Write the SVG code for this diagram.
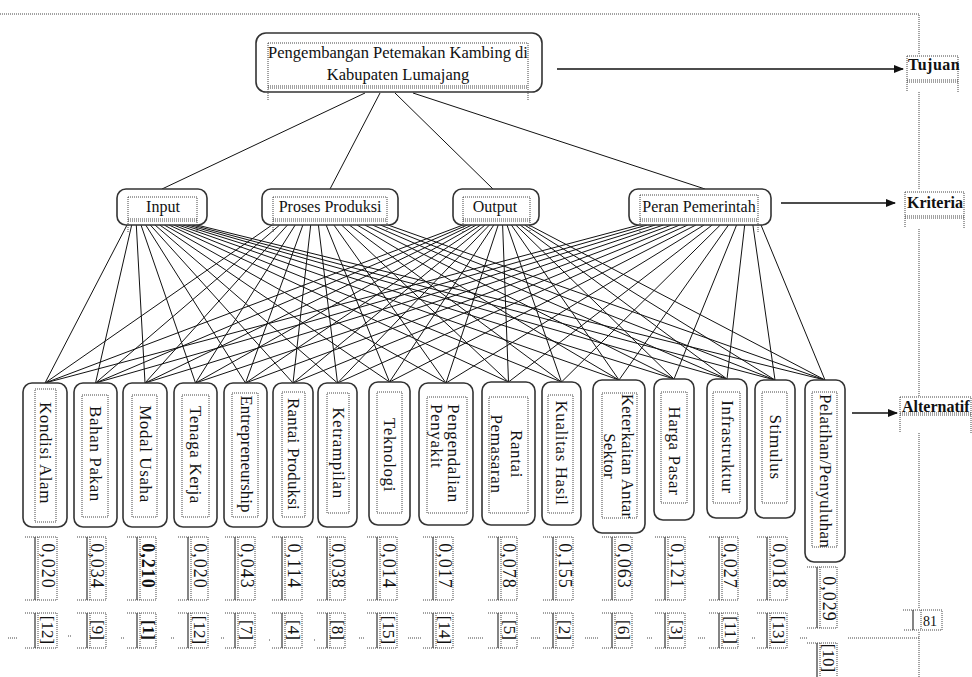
<svg xmlns="http://www.w3.org/2000/svg" width="972" height="677" viewBox="0 0 972 677">
<style>
.box{fill:#fff;stroke:#333;stroke-width:1.6}
.dot{fill:none;stroke:#444;stroke-width:1;stroke-dasharray:1 1}
.sol{fill:none;stroke:#333;stroke-width:1.2}
.con{fill:none;stroke:#111;stroke-width:1}
.arr{fill:none;stroke:#111;stroke-width:1.4}
.t{font-family:"Liberation Serif","Times New Roman",serif;font-size:16px;fill:#111}
.c{text-anchor:middle}
.lb{font-family:"Liberation Serif","Times New Roman",serif;font-size:16px;font-weight:bold;fill:#111}
.a{font-family:"Liberation Serif","Times New Roman",serif;font-size:17px;fill:#111;text-anchor:middle;dominant-baseline:central;letter-spacing:0.6px}
.v{font-family:"Liberation Serif","Times New Roman",serif;font-size:18px;fill:#111;text-anchor:middle;dominant-baseline:central;letter-spacing:1px}
.r{font-family:"Liberation Serif","Times New Roman",serif;font-size:17px;fill:#111;text-anchor:middle;dominant-baseline:central}
.bd{font-weight:bold}
</style>
<defs>
<marker id="ah" markerWidth="10" markerHeight="8" refX="9" refY="4" orient="auto" markerUnits="userSpaceOnUse">
<path d="M0,0 L10,4 L0,8 z" fill="#111"/>
</marker>
</defs>

<g id="frame">
<path class="dot" d="M0,14 H919 V55 M919,92 V190 M919,229 V397 M919,433 V608 M919,632 V677 M848,638 H919"/>
</g>

<g id="connectors">
<path class="con" d="M365,93 L162,189 M380,93 L330,189 M395,93 L493,189 M413,93 L705,189"/>
<path class="con" d="M127,225L45,383 M131.7,225L95.5,383 M136.3,225L145,383 M141,225L195.5,383 M145.7,225L245.5,383 M150.3,225L293,383 M155,225L337.5,383 M159.7,225L389.5,382 M164.3,225L446,383 M169,225L508.5,382 M173.7,225L561.5,382 M178.3,225L619,380 M183,225L674,379 M187.7,225L727,379 M192.3,225L775,380 M197,225L825,380"/>
<path class="con" d="M272,225L45,383 M279.7,225L95.5,383 M287.5,225L145,383 M295.2,225L195.5,383 M302.9,225L245.5,383 M310.7,225L293,383 M318.4,225L337.5,383 M326.1,225L389.5,382 M333.9,225L446,383 M341.6,225L508.5,382 M349.3,225L561.5,382 M357.1,225L619,380 M364.8,225L674,379 M372.5,225L727,379 M380.3,225L775,380 M388,225L825,380"/>
<path class="con" d="M463,225L45,383 M467.4,225L95.5,383 M471.8,225L145,383 M476.2,225L195.5,383 M480.6,225L245.5,383 M485,225L293,383 M489.4,225L337.5,383 M493.8,225L389.5,382 M498.2,225L446,383 M502.6,225L508.5,382 M507,225L561.5,382 M511.4,225L619,380 M515.8,225L674,379 M520.2,225L727,379 M524.6,225L775,380 M529,225L825,380"/>
<path class="con" d="M639,225L45,383 M647.1,225L95.5,383 M655.3,225L145,383 M663.4,225L195.5,383 M671.5,225L245.5,383 M679.7,225L293,383 M687.8,225L337.5,383 M695.9,225L389.5,382 M704.1,225L446,383 M712.2,225L508.5,382 M720.3,225L561.5,382 M728.5,225L619,380 M736.6,225L674,379 M744.7,225L727,379 M752.9,225L775,380 M761,225L825,380"/>
<line class="arr" x1="557" y1="69" x2="903" y2="69" marker-end="url(#ah)"/>
<line class="arr" x1="781" y1="203" x2="895" y2="203" marker-end="url(#ah)"/>
<line class="arr" x1="852" y1="413" x2="897" y2="413" marker-end="url(#ah)"/>
</g>

<g id="goal">
<rect class="box" x="256" y="33" width="286" height="59" rx="10"/>
<path class="dot" d="M268,43 H528 V100 M268,43 V100 M268,86 H528 M268,88 H528"/>
<text class="t c" x="398" y="58" style="font-size:16.5px">Pengembangan Petemakan Kambing di</text>
<text class="t c" x="398" y="80" style="font-size:16.5px">Kabupaten Lumajang</text>
</g>

<g id="label-tujuan">
<path class="dot" d="M907,56 H958 V92 M907,56 V92 M907,80 H958 M907,82 H958"/>
<text class="lb" x="908" y="70" style="letter-spacing:0.5px">Tujuan</text>
</g>
<g id="label-kriteria">
<path class="dot" d="M905,192 H964 V228 M905,192 V228 M905,216 H964 M905,218 H964"/>
<text class="lb" x="907" y="208">Kriteria</text>
</g>
<g id="label-alternatif">
<path class="dot" d="M900,397 H971 V433 M900,397 V433 M900,413 H971 M900,415 H971"/>
<text class="lb" x="902" y="412">Alternatif</text>
</g>

<g id="crit-input">
<rect class="box" x="117" y="189" width="90" height="36" rx="9"/>
<path class="dot" d="M128,197 H197 V232 M128,197 V232 M128,219 H197 M128,221 H197"/>
<text class="t c" x="163" y="212">Input</text>
</g>
<g id="crit-proses">
<rect class="box" x="262" y="189" width="136" height="36" rx="9"/>
<path class="dot" d="M273,197 H387 V232 M273,197 V232 M273,219 H387 M273,221 H387"/>
<text class="t c" x="330" y="212">Proses Produksi</text>
</g>
<g id="crit-output">
<rect class="box" x="453" y="189" width="86" height="36" rx="9"/>
<path class="dot" d="M463,197 H530 V232 M463,197 V232 M463,219 H530 M463,221 H530"/>
<text class="t c" x="495" y="212">Output</text>
</g>
<g id="crit-peran">
<rect class="box" x="629" y="189" width="142" height="36" rx="9"/>
<path class="dot" d="M640,195 H758 V233 M640,195 V233 M640,219 H758 M640,221 H758"/>
<text class="t c" x="699" y="212">Peran Pemerintah</text>
</g>

<g id="alt-1">
<rect class="box" x="23" y="383" width="44" height="144" rx="9"/>
<rect class="dot" x="35" y="389" width="21" height="133"/>
<text class="a" transform="translate(45.5,453) rotate(90)">Kondisi Alam</text>
</g>
<g id="alt-2">
<rect class="box" x="74" y="383" width="43" height="144" rx="9"/>
<rect class="dot" x="82" y="395" width="26" height="122"/>
<text class="a" transform="translate(95.5,454) rotate(90)">Bahan Pakan</text>
</g>
<g id="alt-3">
<rect class="box" x="123" y="383" width="44" height="144" rx="9"/>
<rect class="dot" x="132" y="395" width="25" height="122"/>
<text class="a" transform="translate(145,454) rotate(90)">Modal Usaha</text>
</g>
<g id="alt-4">
<rect class="box" x="174" y="383" width="43" height="144" rx="9"/>
<rect class="dot" x="182" y="395" width="27" height="122"/>
<text class="a" transform="translate(195.5,455) rotate(90)">Tenaga Kerja</text>
</g>
<g id="alt-5">
<rect class="box" x="224" y="383" width="43" height="144" rx="9"/>
<rect class="dot" x="232" y="393" width="26" height="124"/>
<text class="a" transform="translate(246,454) rotate(90)" style="letter-spacing:0px">Entrepreneurship</text>
</g>
<g id="alt-6">
<rect class="box" x="273" y="383" width="40" height="144" rx="9"/>
<rect class="dot" x="282" y="392" width="23" height="125"/>
<text class="a" transform="translate(293,454) rotate(90)" style="letter-spacing:0.2px">Rantai Produksi</text>
</g>
<g id="alt-7">
<rect class="box" x="318" y="383" width="39" height="144" rx="9"/>
<rect class="dot" x="327" y="393" width="22" height="120"/>
<text class="a" transform="translate(338,453) rotate(90)">Ketrampilan</text>
</g>
<g id="alt-8">
<rect class="box" x="369" y="382" width="41" height="143" rx="9"/>
<rect class="dot" x="377" y="392" width="25" height="121"/>
<text class="a" transform="translate(389.5,455) rotate(90)">Teknologi</text>
</g>
<g id="alt-9">
<rect class="box" x="419" y="383" width="54" height="142" rx="9"/>
<rect class="dot" x="427" y="397" width="40" height="116"/>
<text class="a" transform="translate(445,404) rotate(90)" style="text-anchor:start"><tspan x="0" y="-8.5">Pengendalian</tspan><tspan x="0" y="8.5">Penyakit</tspan></text>
</g>
<g id="alt-10">
<rect class="box" x="482" y="382" width="53" height="143" rx="9"/>
<rect class="dot" x="489" y="397" width="39" height="116"/>
<text class="a" transform="translate(507,454) rotate(90)"><tspan x="0" y="-10">Rantai</tspan><tspan x="0" y="10">Pemasaran</tspan></text>
</g>
<g id="alt-11">
<rect class="box" x="542" y="382" width="39" height="143" rx="9"/>
<rect class="dot" x="548" y="395" width="25" height="118"/>
<text class="a" transform="translate(561,453) rotate(90)">Kualitas Hasil</text>
</g>
<g id="alt-12">
<rect class="box" x="593" y="380" width="52" height="153" rx="9"/>
<rect class="dot" x="602" y="393" width="35" height="125"/>
<text class="a" transform="translate(619,456) rotate(90)" style="letter-spacing:0.2px"><tspan x="0" y="-9">Keterkaitan Antar</tspan><tspan x="0" y="9">Sektor</tspan></text>
</g>
<g id="alt-13">
<rect class="box" x="654" y="379" width="40" height="141" rx="9"/>
<rect class="dot" x="661" y="392" width="26" height="111"/>
<text class="a" transform="translate(674,451) rotate(90)">Harga Pasar</text>
</g>
<g id="alt-14">
<rect class="box" x="707" y="379" width="40" height="139" rx="9"/>
<rect class="dot" x="713" y="392" width="27" height="111"/>
<text class="a" transform="translate(727,447) rotate(90)">Infrastruktur</text>
</g>
<g id="alt-15">
<rect class="box" x="755" y="380" width="40" height="138" rx="9"/>
<rect class="dot" x="762" y="392" width="25" height="111"/>
<text class="a" transform="translate(775,447) rotate(90)">Stimulus</text>
</g>
<g id="alt-16">
<rect class="box" x="805" y="380" width="40" height="182" rx="9"/>
<rect class="dot" x="812" y="392" width="25" height="155"/>
<text class="a" transform="translate(825,471) rotate(90)" style="letter-spacing:0.3px">Pelatihan/Penyuluhan</text>
</g>

<g id="values">
<g id="val-1"><path class="dot" d="M25,537 H57 V600 H25 M38,537 V600"/><path class="sol" d="M35,537 V600"/><text class="v" transform="translate(47.5,566) rotate(90)">0,020</text></g>
<g id="val-2"><path class="dot" d="M77,537 H106 V600 H77 M90,537 V600"/><path class="sol" d="M87,537 V600"/><text class="v" transform="translate(97,566) rotate(90)">0,034</text></g>
<g id="val-3"><path class="dot" d="M127,537 H156 V600 H127 M140,537 V600"/><path class="sol" d="M137,537 V600"/><text class="v bd" transform="translate(148,566) rotate(90)">0,210</text></g>
<g id="val-4"><path class="dot" d="M178,537 H208 V600 H178 M191,537 V600"/><path class="sol" d="M188,537 V600"/><text class="v" transform="translate(199.5,566) rotate(90)">0,020</text></g>
<g id="val-5"><path class="dot" d="M225,537 H255 V600 H225 M238,537 V600"/><path class="sol" d="M235,537 V600"/><text class="v" transform="translate(246.5,566) rotate(90)">0,043</text></g>
<g id="val-6"><path class="dot" d="M272,537 H302 V600 H272 M285,537 V600"/><path class="sol" d="M282,537 V600"/><text class="v" transform="translate(293.5,566) rotate(90)">0,114</text></g>
<g id="val-7"><path class="dot" d="M317,537 H345 V600 H317 M330,537 V600"/><path class="sol" d="M327,537 V600"/><text class="v" transform="translate(337.5,566) rotate(90)">0,038</text></g>
<g id="val-8"><path class="dot" d="M367,537 H397 V600 H367 M380,537 V600"/><path class="sol" d="M377,537 V600"/><text class="v" transform="translate(388.5,566) rotate(90)">0,014</text></g>
<g id="val-9"><path class="dot" d="M423,537 H453 V600 H423 M436,537 V600"/><path class="sol" d="M433,537 V600"/><text class="v" transform="translate(444.5,566) rotate(90)">0,017</text></g>
<g id="val-10"><path class="dot" d="M488,537 H517 V600 H488 M501,537 V600"/><path class="sol" d="M498,537 V600"/><text class="v" transform="translate(509,566) rotate(90)">0,078</text></g>
<g id="val-11"><path class="dot" d="M543,537 H573 V600 H543 M556,537 V600"/><path class="sol" d="M553,537 V600"/><text class="v" transform="translate(564.5,566) rotate(90)">0,155</text></g>
<g id="val-12"><path class="dot" d="M602,537 H632 V600 H602 M615,537 V600"/><path class="sol" d="M612,537 V600"/><text class="v" transform="translate(623.5,566) rotate(90)">0,063</text></g>
<g id="val-13"><path class="dot" d="M655,537 H685 V600 H655 M668,537 V600"/><path class="sol" d="M665,537 V600"/><text class="v" transform="translate(676.5,566) rotate(90)">0,121</text></g>
<g id="val-14"><path class="dot" d="M709,537 H738 V600 H709 M722,537 V600"/><path class="sol" d="M719,537 V600"/><text class="v" transform="translate(730,566) rotate(90)">0,027</text></g>
<g id="val-15"><path class="dot" d="M757,537 H787 V600 H757 M770,537 V600"/><path class="sol" d="M767,537 V600"/><text class="v" transform="translate(778.5,566) rotate(90)">0,018</text></g>
<g id="val-16"><path class="dot" d="M807,567 H837 V628 H807 M820,567 V628"/><path class="sol" d="M817,567 V628"/><text class="v" transform="translate(828.5,599) rotate(90)">0,029</text></g>
</g>

<g id="ranks">
<g id="rank-1"><path class="dot" d="M25,613 H57 V648 H25 M38,613 V648 M8,638 H18"/><path class="sol" d="M35,613 V648"/><text class="r" transform="translate(47.5,630) rotate(90)">[12]</text></g>
<g id="rank-2"><path class="dot" d="M77,613 H106 V648 H77 M90,613 V648 M68,636 H71"/><path class="sol" d="M87,613 V648"/><text class="r" transform="translate(97,630) rotate(90)">[9]</text></g>
<g id="rank-3"><path class="dot" d="M127,613 H156 V648 H127 M140,613 V648 M121,638 H125"/><path class="sol" d="M137,613 V648"/><text class="r bd" transform="translate(148,630) rotate(90)">[1]</text></g>
<g id="rank-4"><path class="dot" d="M178,613 H208 V648 H178 M191,613 V648 M171,638 H175"/><path class="sol" d="M188,613 V648"/><text class="r" transform="translate(199.5,630) rotate(90)">[12]</text></g>
<g id="rank-5"><path class="dot" d="M225,613 H255 V648 H225 M238,613 V648 M221,638 H224"/><path class="sol" d="M235,613 V648"/><text class="r" transform="translate(246.5,630) rotate(90)">[7]</text></g>
<g id="rank-6"><path class="dot" d="M272,613 H302 V648 H272 M285,613 V648 M269,640 H271"/><path class="sol" d="M282,613 V648"/><text class="r" transform="translate(293.5,630) rotate(90)">[4]</text></g>
<g id="rank-7"><path class="dot" d="M317,613 H345 V648 H317 M330,613 V648 M314,640 H316"/><path class="sol" d="M327,613 V648"/><text class="r" transform="translate(337.5,630) rotate(90)">[8]</text></g>
<g id="rank-8"><path class="dot" d="M367,613 H397 V648 H367 M380,613 V648 M359,638 H364"/><path class="sol" d="M377,613 V648"/><text class="r" transform="translate(388.5,630) rotate(90)">[15]</text></g>
<g id="rank-9"><path class="dot" d="M423,613 H453 V648 H423 M436,613 V648 M408,638 H421"/><path class="sol" d="M433,613 V648"/><text class="r" transform="translate(444.5,630) rotate(90)">[14]</text></g>
<g id="rank-10"><path class="dot" d="M488,613 H517 V648 H488 M501,613 V648 M468,638 H484"/><path class="sol" d="M498,613 V648"/><text class="r" transform="translate(509,630) rotate(90)">[5]</text></g>
<g id="rank-11"><path class="dot" d="M543,613 H573 V648 H543 M556,613 V648 M531,638 H540"/><path class="sol" d="M553,613 V648"/><text class="r" transform="translate(564.5,630) rotate(90)">[2]</text></g>
<g id="rank-12"><path class="dot" d="M602,613 H632 V648 H602 M615,613 V648 M585,638 H599"/><path class="sol" d="M612,613 V648"/><text class="r" transform="translate(623.5,630) rotate(90)">[6]</text></g>
<g id="rank-13"><path class="dot" d="M655,613 H685 V648 H655 M668,613 V648 M647,638 H652"/><path class="sol" d="M665,613 V648"/><text class="r" transform="translate(676.5,630) rotate(90)">[3]</text></g>
<g id="rank-14"><path class="dot" d="M709,613 H738 V648 H709 M722,613 V648 M698,638 H705"/><path class="sol" d="M719,613 V648"/><text class="r" transform="translate(730,630) rotate(90)">[11]</text></g>
<g id="rank-15"><path class="dot" d="M757,613 H787 V648 H757 M770,613 V648 M752,638 H755"/><path class="sol" d="M767,613 V648"/><text class="r" transform="translate(778.5,630) rotate(90)">[13]</text></g>
<g id="rank-16"><path class="dot" d="M807,643 H837 V677 M820,643 V677 M800,638 H808"/><path class="sol" d="M817,643 V677"/><text class="r" transform="translate(828.5,658) rotate(90)">[10]</text></g>
<g id="rank-extra"><path class="dot" d="M903,610 H942 V630 H903 M921,610 V630"/><path class="sol" d="M913,610 V630"/><text class="t" x="923" y="626" style="font-size:14px">81</text></g>
</g>
</svg>
